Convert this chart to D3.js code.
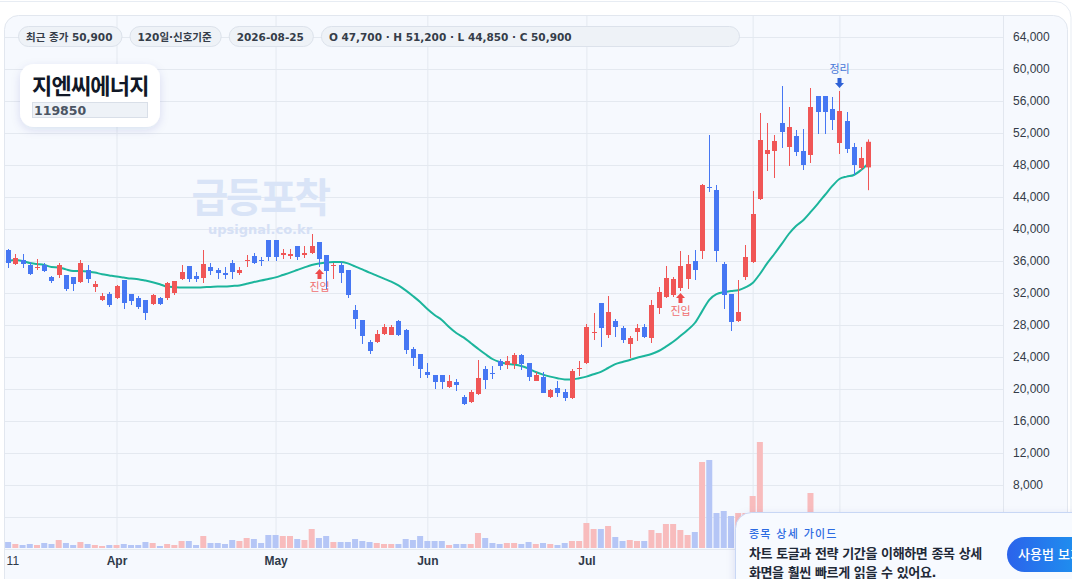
<!DOCTYPE html>
<html lang="ko">
<head>
<meta charset="utf-8">
<title>지엔씨에너지 119850</title>
<script src="https://cdn.jsdelivr.net/npm/d3@7"></script>
<style>
  html, body { margin: 0; padding: 0; background: #ffffff; }
  svg { display: block; font-family: 'DejaVu Sans', 'Noto Sans CJK KR', sans-serif; }
</style>
</head>
<body>
<svg id="chart" width="1072" height="579"></svg>
<script>
// daily candles, 2026-03-11 .. 2026-08-25 (120 trading days)
const opens = [37375,35625,36125,35500,35125,35500,34000,34250,34250,34000,33375,34875,32750,31125,31875,31375,33625,31875,31375,31125,
  30625,31375,31375,32000,33750,35375,34125,33875,35250,34875,34500,35750,34500,36000,36625,36125,38625,38625,36750,36625,
  37875,36750,37000,38375,36750,35375,35500,34875,29875,28625,25875,25875,26875,26750,28500,27375,25000,24375,22125,21750,
  21750,20250,20875,19000,18375,19375,22500,22000,23500,23000,23125,24250,23250,21000,21500,19000,20125,19625,18875,22500,
  23250,27000,30750,26750,28500,27625,25625,27125,27750,26375,30125,31500,31750,32625,33750,36000,37250,45250,44875,35625,
  31875,28500,34000,35875,43750,49375,49750,53250,50250,51625,49750,49250,56625,56625,55000,50750,53500,50250,47625,47700];
const highs = [37500,36875,36875,35875,36250,35750,34125,35750,34250,34000,36125,35500,33500,32000,32125,33000,33625,31875,31625,31125,
  31875,31500,33375,33500,35500,35375,34625,37375,35750,35125,35250,36125,35250,36750,37000,36500,38625,38625,37500,37500,
  37875,37875,39375,38375,36750,35750,35875,34875,30500,28625,26125,27375,28125,28000,28625,27500,25250,24375,23250,21750,
  21750,21750,21250,19250,19875,23625,22875,22875,23750,24125,24500,24375,23250,22125,22125,20000,21000,20000,22500,23500,
  28125,29500,30750,31625,28750,27875,26625,28125,28125,31125,32750,35375,34000,37250,36750,37375,45625,51750,45500,35875,
  31875,33625,38000,44750,54500,53250,51750,57875,55250,52375,52500,57625,56625,56625,56500,57250,54625,50750,50250,51200];
const lows = [35125,35500,35125,34250,34875,34625,33250,33875,32250,32250,33250,33250,32125,31000,30250,31250,30000,30500,30000,28625,
  30500,30500,31125,31750,33625,33375,33375,33250,34250,33750,33750,33750,34250,35250,35625,35375,36000,36000,36250,36250,
  36125,36375,36875,35250,32500,33750,33250,31375,27500,25625,24375,25750,26750,26750,26625,24375,22875,21375,21375,20000,
  20000,20125,19750,18000,18250,19250,20000,21250,22375,22500,22500,22375,21000,21000,19500,18875,19000,18500,18750,21625,
  23125,26125,25250,26375,26500,25750,23875,26000,26375,25750,29375,31375,31500,32250,32500,33625,36250,44625,35875,30000,
  27250,28375,33625,35750,43625,47250,46375,50125,47875,49125,47375,48250,51875,51875,52375,49375,49500,46750,47375,44850];
const closes = [35750,36375,35625,34375,35250,34750,33500,35500,32500,33125,35750,33750,33125,31625,30500,32875,30750,31000,30250,29500,
  31750,30625,33250,33500,34625,33750,33750,35625,34750,34500,34250,34625,34875,36125,35750,36000,36500,36500,37000,36875,
  36500,37000,37875,36250,34750,35500,34500,31750,28750,26625,24750,26875,27750,27750,26750,24875,23875,22500,21750,20875,
  20875,21000,20500,18125,19625,21375,21125,21875,22875,23500,24250,23125,21500,21750,19500,19875,19500,18875,22250,22625,
  27750,27125,27625,29625,27750,26125,26375,27625,26500,30500,32125,33875,33750,35375,35625,34875,45500,45125,37250,31750,
  28375,29625,36500,41875,51125,49875,51000,52125,52750,49625,48000,55250,54625,54625,53625,54750,50000,48000,48875,50900];
// volume, thousand shares
const volumes = [60,40,30,40,30,50,40,80,50,30,60,40,30,20,30,30,40,30,30,60,
  50,20,40,30,70,70,30,120,50,50,40,80,70,100,90,50,130,130,120,120,
  90,80,190,100,120,60,60,60,90,70,60,50,40,40,40,90,80,120,70,70,
  70,30,40,40,40,150,100,50,40,50,50,40,60,40,50,40,30,50,70,70,
  250,190,190,220,110,70,80,70,70,180,150,240,240,180,130,160,860,880,350,370,
  320,350,350,520,1060,280,220,300,260,180,200,550,300,240,200,280,260,220,180,250];
// 20-day moving average as drawn
const ma20 = [36000,36125,36000,35750,35625,35500,35250,35200,34950,34750,34750,34700,34550,34350,34200,34050,33925,33800,33725,33550,
  33350,33100,32800,32725,32675,32675,32675,32725,32750,32800,32800,32875,32950,33150,33375,33550,33750,33950,34250,34550,
  34875,35200,35500,35700,35825,35875,35875,35700,35325,34950,34550,34175,33800,33425,32950,32325,31625,30875,30000,29250,
  28625,27750,27000,26450,25750,25050,24375,23750,23375,23150,23050,22875,22550,22125,21800,21550,21350,21200,21200,21350,
  21550,21850,22150,22625,23100,23375,23625,23900,24125,24375,24750,25300,25900,26625,27375,28250,29700,31150,31850,32100,
  32250,32350,32700,33250,34375,35700,36875,38100,39375,40375,41100,42100,43150,44250,45350,46250,46550,46750,47375,48200];

const priceTicks = [4000,8000,12000,16000,20000,24000,28000,32000,36000,40000,44000,48000,52000,56000,60000,64000];
// vertical grid lines (Aug 3, Aug 19 sit behind the guide popup)
const gridTickIdx = [15, 37, 58, 80, 103, 115];
const timeTickIdx = [0, 15, 37, 58, 80];
const timeTickLabels = ["11", "Apr", "May", "Jun", "Jul"];

const signalIdx = [43, 93, 115];
const signalLabels = ["진입", "진입", "정리"];

const headerPills = ["최근 종가 50,900", "120일·신호기준", "2026-08-25", "O 47,700 · H 51,200 · L 44,850 · C 50,900"];
const stockName = "지엔씨에너지";
const stockCode = "119850";

const UP = "#f05656", DOWN = "#4677f3";
const UP_VOL = "#f8bcbd", DOWN_VOL = "#b5c6f6";

const svg = d3.select("#chart");
const defs = svg.append("defs");

const shadow = defs.append("filter").attr("id", "shadow")
    .attr("x", "-30%").attr("y", "-30%").attr("width", "160%").attr("height", "160%");
shadow.append("feDropShadow")
    .attr("dx", 0).attr("dy", 3).attr("stdDeviation", 5)
    .attr("flood-color", "#1e3a8a").attr("flood-opacity", 0.12);

const grad = defs.append("linearGradient").attr("id", "btn").attr("x1", 0).attr("x2", 1);
grad.append("stop").attr("offset", "0%").attr("stop-color", "#2b63eb");
grad.append("stop").attr("offset", "100%").attr("stop-color", "#1aa0f0");

defs.append("clipPath").attr("id", "plot")
  .append("rect").attr("x", 5).attr("y", 16).attr("width", 998).attr("height", 533);

// frame + card
svg.append("rect")
    .attr("x", -20).attr("y", 1.5).attr("width", 1091).attr("height", 640).attr("rx", 16)
    .attr("fill", "#ffffff").attr("stroke", "#e7ecf3");
svg.append("rect")
    .attr("x", 4.5).attr("y", 15.5).attr("width", 1063).attr("height", 640).attr("rx", 14)
    .attr("fill", "#f6f9fe").attr("stroke", "#e2e7ef");

const x = d3.scaleLinear().domain([0, closes.length - 1]).range([8.1, 868.3]);
const y = d3.scaleLinear().domain([8000, 64000]).range([485, 37]);
const yVol = d3.scaleLinear().domain([0, 1060]).range([548, 442]);

// price axis + horizontal grid
const yAxis = svg.append("g")
    .attr("transform", "translate(1003,0)")
    .call(d3.axisRight(y).tickValues(priceTicks).tickFormat(d3.format(",")).tickSize(-998).tickPadding(10));
yAxis.select(".domain").remove();
yAxis.selectAll(".tick line").attr("stroke", "#e4e9f0");
yAxis.selectAll(".tick text").attr("fill", "#333b47").style("font-size", "12px");

svg.append("line")
    .attr("x1", 1003.5).attr("x2", 1003.5).attr("y1", 16).attr("y2", 579)
    .attr("stroke", "#e2e7ef");

// vertical grid
const xGrid = svg.append("g")
    .attr("transform", "translate(0,549)")
    .call(d3.axisBottom(x).tickValues(gridTickIdx).tickFormat("").tickSize(-533));
xGrid.select(".domain").remove();
xGrid.selectAll(".tick line").attr("stroke", "#e4e9f0");

// time axis labels
const xAxis = svg.append("g")
    .attr("transform", "translate(0,549)")
    .call(d3.axisBottom(x).tickValues(timeTickIdx)
        .tickFormat((d, i) => timeTickLabels[i]).tickSize(0).tickPadding(7));
xAxis.select(".domain").remove();
xAxis.selectAll(".tick text")
    .attr("fill", "#2f3a4a")
    .style("font-size", "12px")
    .style("font-weight", (d, i) => isNaN(+timeTickLabels[i]) ? "bold" : "normal");
xAxis.select(".tick text").attr("text-anchor", "start").attr("x", -2);

svg.append("line")
    .attr("x1", 5).attr("x2", 1003).attr("y1", 549.5).attr("y2", 549.5)
    .attr("stroke", "#e4e9f0");

// watermark
svg.append("text")
    .attr("x", 260).attr("y", 198)
    .attr("text-anchor", "middle").attr("dominant-baseline", "central")
    .style("font-size", "40px").style("font-weight", "bold").style("letter-spacing", "-2.5px")
    .attr("fill", "#d9e4f7")
    .text("급등포착");
svg.append("text")
    .attr("x", 260).attr("y", 229)
    .attr("text-anchor", "middle").attr("dominant-baseline", "central")
    .style("font-size", "13px").style("font-weight", "bold")
    .attr("fill", "#d5e0f5")
    .text("upsignal.co.kr");

const plot = svg.append("g").attr("clip-path", "url(#plot)");
const idx = d3.range(closes.length);
const isUp = i => closes[i] >= opens[i];

// volume
plot.selectAll(".vol")
    .data(idx)
  .enter().append("rect")
    .attr("class", "vol")
    .attr("x", i => x(i) - 3)
    .attr("width", 6)
    .attr("y", i => yVol(volumes[i]))
    .attr("height", i => yVol(0) - yVol(volumes[i]))
    .attr("fill", i => isUp(i) ? UP_VOL : DOWN_VOL);

// moving average
plot.append("path")
    .datum(idx)
    .attr("fill", "none")
    .attr("stroke", "#1cb59c")
    .attr("stroke-width", 2)
    .attr("d", d3.line().x(i => x(i)).y(i => y(ma20[i])).curve(d3.curveMonotoneX));

// candles
const candle = plot.selectAll(".candle")
    .data(idx)
  .enter().append("g")
    .attr("class", "candle");

candle.append("line")
    .attr("x1", i => Math.round(x(i)) + 0.5)
    .attr("x2", i => Math.round(x(i)) + 0.5)
    .attr("y1", i => y(highs[i]))
    .attr("y2", i => y(lows[i]))
    .attr("stroke", i => isUp(i) ? UP : DOWN);

candle.append("rect")
    .attr("x", i => Math.round(x(i)) - 2)
    .attr("width", 5)
    .attr("y", i => y(Math.max(opens[i], closes[i])))
    .attr("height", i => Math.max(1, Math.abs(y(opens[i]) - y(closes[i]))))
    .attr("fill", i => isUp(i) ? UP : DOWN);

// signals
const upArrow = "M0,0 L4.5,5 L2,5 L2,10 L-2,10 L-2,5 L-4.5,5 Z";
const downArrow = "M0,0 L4.5,-5 L2,-5 L2,-10 L-2,-10 L-2,-5 L-4.5,-5 Z";

signalIdx.forEach((i, k) => {
    const entry = signalLabels[k] === "진입";
    const cx = Math.round(x(i)) + 0.5;
    if (entry) {
        const base = y(lows[i]);
        svg.append("path").attr("d", upArrow)
            .attr("transform", `translate(${cx},${base + 2})`)
            .attr("fill", "#ee4b4b");
        svg.append("text")
            .attr("x", cx).attr("y", base + 20)
            .attr("text-anchor", "middle").attr("dominant-baseline", "central")
            .style("font-size", "11px")
            .attr("fill", "#f07070")
            .text(signalLabels[k]);
    } else {
        const top = y(highs[i]);
        svg.append("path").attr("d", downArrow)
            .attr("transform", `translate(${cx},${top - 3})`)
            .attr("fill", "#2f62d6");
        svg.append("text")
            .attr("x", cx).attr("y", top - 22)
            .attr("text-anchor", "middle").attr("dominant-baseline", "central")
            .style("font-size", "11px")
            .attr("fill", "#4677d8")
            .text(signalLabels[k]);
    }
});

// header pills
let px = 18;
headerPills.forEach((label, k) => {
    const g = svg.append("g");
    const r = g.append("rect")
        .attr("x", px + 0.5).attr("y", 26.5).attr("height", 20).attr("rx", 10)
        .attr("fill", "#eef2f7").attr("stroke", "#dce2eb");
    const t = g.append("text")
        .attr("x", px + 8).attr("y", 37)
        .attr("dominant-baseline", "central")
        .style("font-size", "10.5px").style("font-weight", "bold")
        .attr("fill", "#353d49")
        .text(label);
    const w = k === headerPills.length - 1 ? 739 - px : t.node().getComputedTextLength() + 17;
    r.attr("width", w);
    px += w + 8;
});

// name card
svg.append("rect")
    .attr("x", 20).attr("y", 64).attr("width", 140).attr("height", 63).attr("rx", 14)
    .attr("fill", "#ffffff").attr("filter", "url(#shadow)");
svg.append("text")
    .attr("x", 32).attr("y", 86)
    .attr("dominant-baseline", "central")
    .style("font-size", "22px").style("font-weight", "bold").style("letter-spacing", "-0.8px")
    .attr("fill", "#111827")
    .text(stockName);
svg.append("rect")
    .attr("x", 32.5).attr("y", 102.5).attr("width", 115).attr("height", 15)
    .attr("fill", "#eef2f7").attr("stroke", "#d9dfe8");
svg.append("text")
    .attr("x", 34).attr("y", 110.5)
    .attr("dominant-baseline", "central")
    .style("font-size", "12.5px").style("font-weight", "bold")
    .attr("fill", "#4b5563")
    .text(stockCode);

// guide popup
svg.append("rect")
    .attr("x", 735.5).attr("y", 512.5).attr("width", 360).attr("height", 100).attr("rx", 16)
    .attr("fill", "#f7faff").attr("stroke", "#c8d7f5").attr("filter", "url(#shadow)");
svg.append("text")
    .attr("x", 749).attr("y", 534)
    .attr("dominant-baseline", "central")
    .style("font-size", "11px").style("font-weight", "500").style("letter-spacing", "1.2px")
    .attr("fill", "#2d6be2")
    .text("종목 상세 가이드");
svg.append("text")
    .attr("x", 749).attr("y", 553)
    .attr("dominant-baseline", "central")
    .style("font-size", "13px").style("font-weight", "bold").style("letter-spacing", "-0.4px")
    .attr("fill", "#1f2937")
    .text("차트 토글과 전략 기간을 이해하면 종목 상세");
svg.append("text")
    .attr("x", 749).attr("y", 572)
    .attr("dominant-baseline", "central")
    .style("font-size", "13px").style("font-weight", "bold").style("letter-spacing", "-0.4px")
    .attr("fill", "#1f2937")
    .text("화면을 훨씬 빠르게 읽을 수 있어요.");
svg.append("rect")
    .attr("x", 1007).attr("y", 537).attr("width", 96).attr("height", 35).attr("rx", 17.5)
    .attr("fill", "url(#btn)");
svg.append("text")
    .attr("x", 1018).attr("y", 554.5)
    .attr("dominant-baseline", "central")
    .style("font-size", "13px").style("font-weight", "500")
    .attr("fill", "#ffffff")
    .text("사용법 보기");
</script>
</body>
</html>
